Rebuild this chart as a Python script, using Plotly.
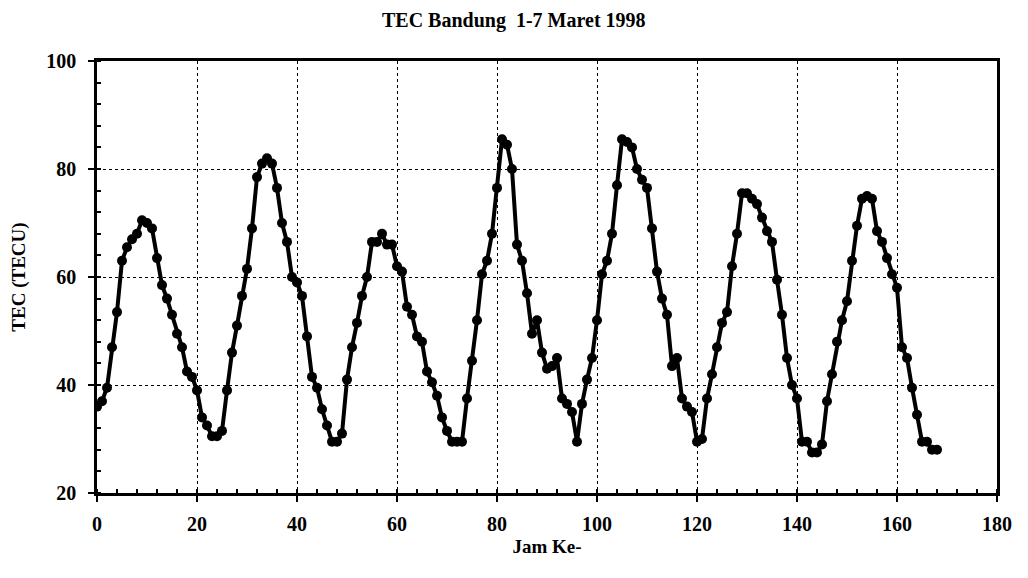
import plotly.graph_objects as go

hours = list(range(0, 169))
tec = [
    36, 37, 39.5, 47, 53.5, 63, 65.5, 67, 68, 70.5,
    70, 69, 63.5, 58.5, 56, 53, 49.5, 47, 42.5, 41.5,
    39, 34, 32.5, 30.5, 30.5, 31.5, 39, 46, 51, 56.5,
    61.5, 69, 78.5, 81, 82, 81, 76.5, 70, 66.5, 60,
    59, 56.5, 49, 41.5, 39.5, 35.5, 32.5, 29.5, 29.5, 31,
    41, 47, 51.5, 56.5, 60, 66.5, 66.5, 68, 66, 66,
    62, 61, 54.5, 53, 49, 48, 42.5, 40.5, 38, 34,
    31.5, 29.5, 29.5, 29.5, 37.5, 44.5, 52, 60.5, 63, 68,
    76.5, 85.5, 84.5, 80, 66, 63, 57, 49.5, 52, 46,
    43, 43.5, 45, 37.5, 36.5, 35, 29.5, 36.5, 41, 45,
    52, 60.5, 63, 68, 77, 85.5, 85, 84, 80, 78,
    76.5, 69, 61, 56, 53, 43.5, 45, 37.5, 36, 35,
    29.5, 30, 37.5, 42, 47, 51.5, 53.5, 62, 68, 75.5,
    75.5, 74.5, 73.5, 71, 68.5, 66.5, 59.5, 53, 45, 40,
    37.5, 29.5, 29.5, 27.5, 27.5, 29, 37, 42, 48, 52,
    55.5, 63, 69.5, 74.5, 75, 74.5, 68.5, 66.5, 63.5, 60.5,
    58, 47, 45, 39.5, 34.5, 29.5, 29.5, 28, 28,
]

title_text = "TEC Bandung  1-7 Maret 1998"
x_title = "Jam Ke-"
y_title = "TEC (TECU)"

font_family = "Liberation Serif"

fig = go.Figure()
fig.add_trace(go.Scatter(
    x=hours, y=tec, mode="lines+markers",
    line=dict(color="black", width=4),
    marker=dict(color="black", size=10),
    showlegend=False,
))

fig.update_layout(
    width=1028, height=578,
    margin=dict(l=89, r=39, t=53, b=93),
    paper_bgcolor="white", plot_bgcolor="white",
    font=dict(family=font_family, color="black"),
    title=dict(text="<b>" + title_text + "</b>", x=0.492, xref="container",
               xanchor="center", y=0.979, yanchor="middle",
               font=dict(size=20, family=font_family, color="black")),
)

fig.update_xaxes(
    range=[0, 180], dtick=20, tick0=0, automargin=False,
    showgrid=True, gridcolor="black", griddash="dot", gridwidth=1,
    showline=True, linecolor="black", linewidth=2.5, mirror=True,
    ticks="outside", ticklen=6, tickcolor="black", tickwidth=1.5,
    minor=dict(dtick=4, ticks="inside", ticklen=4, tickcolor="black", showgrid=False),
    ticklabelstandoff=5,
    tickfont=dict(size=20, family=font_family, color="black"),
    tickprefix="<b>", ticksuffix="</b>",
    zeroline=False,
    title=dict(text="<b>" + x_title + "</b>", standoff=6,
               font=dict(size=19, family=font_family, color="black")),
)
fig.update_yaxes(
    range=[20, 100], dtick=20, tick0=20, automargin=False,
    showgrid=True, gridcolor="black", griddash="dot", gridwidth=1,
    showline=True, linecolor="black", linewidth=2.5, mirror=True,
    ticks="outside", ticklen=6, tickcolor="black", tickwidth=1.5,
    minor=dict(dtick=4, ticks="inside", ticklen=4, tickcolor="black", showgrid=False),
    ticklabelstandoff=8,
    tickfont=dict(size=20, family=font_family, color="black"),
    tickprefix="<b>", ticksuffix="</b>",
    zeroline=False,
    title=dict(text="<b>" + y_title + "</b>", standoff=16,
               font=dict(size=19, family=font_family, color="black")),
)

fig.write_html("out.html")
